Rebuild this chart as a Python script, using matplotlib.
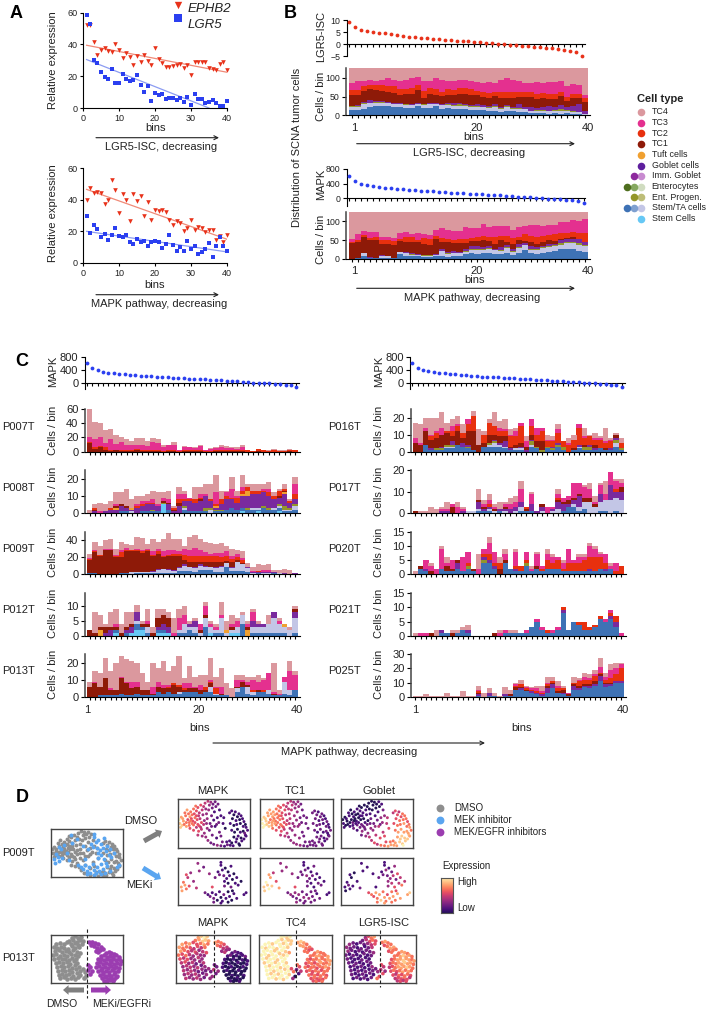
import numpy as np
import matplotlib
matplotlib.use('Agg')
import matplotlib.pyplot as plt
from matplotlib.colors import ListedColormap

plt.rcParams['font.family'] = ['Liberation Sans', 'DejaVu Sans']
plt.rcParams['text.color'] = '#222222'
plt.rcParams['xtick.labelcolor'] = '#222222'
plt.rcParams['ytick.labelcolor'] = '#222222'

W, H = 709, 1010
bins = list(range(1, 41))

# panel A
a1_ephb2 = [52,52,41.5,33.5,36.5,37.5,36,35,40,36.5, 31.5,34.5,32,27,32.5,29,33.5,29.5,27,38,
            31,28.5,25.5,26,26.5,27,28,25,27,21, 29,29,29,29,25,24.5,24,28,29,24]
a1_lgr5 = [58.5,53,30.5,28.5,22.5,19.5,18.5,24.5,15.5,16, 21.5,18,17,17.5,20.5,14.5,10,14,4.5,9.5,
           8,9,5.5,6,6.5,5,6.5,4,7,2, 8.5,5.5,5.5,3,3.5,5,3,1.5,1.5,4.5]
a2_ephb2 = [40,47.5,44.5,45,44.5,37.5,40,52.5,46,31.5, 43.5,40,26.5,43.5,39,42.5,30,38.5,27,33.5,
            33,33.5,32,27,24,26.5,25,20,22,27, 21,22.5,22,19.5,21,21,14.5,17,13,18]
a2_lgr5 = [29.5,19,24,21.5,16.5,18.5,14.5,18,22,17, 16.5,17.5,13.5,12,15,13.5,14,10.5,13,14,
           13,9.5,12,17.5,11.5,7.5,10,7.5,14,9, 11,5.5,7,9,12.5,3.5,11,16.5,10.5,7.5]
a1_red_fit = ([1, 40], [39.5, 22.5])
a1_blue_fit = ([1, 35], [30.5, 0])
a2_red_fit = ([1, 40], [46.5, 15])
a2_blue_fit = ([1, 40], [20, 7])

# ranked scores
lgr5_score = [9.3,7,6,5.5,5,4.7,4.4,4,3.7,3.4, 3.1,2.9,2.6,2.4,2.1,2,1.8,1.6,1.4,1.2,
              1.1,0.9,0.7,0.5,0.3,0.1,-0.2,-0.4,-0.6,-0.8, -0.9,-1.1,-1.3,-1.5,-1.7,-2,-2.4,-2.9,-3.5,-4.8]
mapk_score = [620,465,400,350,320,300,285,270,255,240, 225,210,200,190,180,170,160,150,140,130,
              120,110,100,90,80,70,60,50,40,30, 15,5,-5,-15,-25,-35,-45,-60,-80,-130]

# panel B, LGR5-ISC order
b1_blue = [14,14,18,22,26,24,24,22,22,20, 20,25,20,20,24,17,20,16,16,18, 14,14,14,12,13,10,13,12,10,10, 6,6,6,5,6,5,6,5,4,2]
b1_lav = [8,9,12,10,8,9,8,8,7,8, 7,4,8,9,6,10,7,8,10,8, 8,9,8,7,8,8,8,6,6,6, 6,7,7,6,6,6,6,5,5,1]
b1_olive = [2,2,2,1,1,2,1,1,2,1, 1,1,1,1,1,1,2,3,3,2, 2,2,1,2,3,2,3,2,3,2, 1,1,1,2,2,5,2,2,1,0]
b1_purple = [1,2,4,7,2,2,3,3,2,2, 2,3,2,3,2,3,4,6,3,3, 4,4,4,4,7,3,3,3,10,4, 8,6,8,12,8,11,9,14,20,10]
b1_tc1 = [30,27,30,30,30,28,26,25,22,25, 26,35,15,25,20,20,22,20,25,27, 25,24,22,20,20,24,20,22,20,28, 28,24,24,18,22,25,14,20,15,22]
b1_tc2 = [12,14,12,12,14,16,15,18,16,14, 16,12,18,14,18,12,14,15,15,14, 16,12,14,15,12,15,15,16,14,12, 12,14,14,14,14,10,12,12,12,10]
b1_tc3 = [18,22,14,11,11,14,21,18,21,24, 26,22,27,18,27,32,21,24,23,21, 21,23,22,28,22,33,38,34,27,23, 24,30,27,32,30,28,29,25,25,10]
b1_tc4 = [45,40,38,37,38,35,32,35,38,36, 32,28,39,40,32,35,40,38,35,37, 40,42,45,42,45,35,30,35,40,45, 45,42,43,41,42,40,52,47,48,75]

# panel B, MAPK order
b2_blue = [0,1,7,2,2,3,3,1,12,7, 8,6,5,5,6,6,4,7,7,13, 14,13,14,14,12,12,15,10,15,22, 15,12,16,18,20,25,25,25,20,17]
b2_lav = [0,0,8,1,1,5,3,1,5,8, 3,4,3,3,3,14,8,7,8,6, 8,11,8,12,10,9,14,8,14,14, 8,10,12,14,13,12,16,16,18,16]
b2_olive = [0,0,0,0,0,0,0,0,0,1, 1,1,1,1,2,1,3,2,1,2, 3,2,3,3,2,2,3,2,2,2, 3,3,2,2,4,5,4,4,4,3]
b2_purple = [0,0,1,1,0,1,1,1,2,1, 2,2,1,1,2,4,4,5,3,4, 9,8,6,4,3,7,4,5,8,4, 7,5,4,5,3,9,8,9,10,10]
b2_tc1 = [42,44,42,46,48,30,32,35,28,28, 30,33,30,28,40,20,25,22,24,17, 13,13,19,14,13,20,9,15,10,5, 13,10,12,10,8,2,2,3,1,0]
b2_tc2 = [2,4,5,5,8,10,12,10,6,12, 13,5,16,15,8,10,10,8,10,12, 9,10,10,12,18,12,15,16,8,18, 16,18,14,15,18,16,14,15,17,24]
b2_tc3 = [8,17,10,16,13,9,8,8,16,15, 9,18,9,10,15,26,24,22,22,30, 27,25,32,25,30,25,28,22,28,22, 29,32,28,26,24,28,30,32,30,35]
b2_tc4 = [83,67,62,62,64,76,75,78,66,63, 69,64,70,72,64,62,65,70,68,60, 62,63,53,61,57,56,56,63,60,58, 52,55,57,55,55,48,46,41,45,40]

# panel C, left column
p007_tc1 = [12,4,6,3,1,2,1,1,1,3, 1,1,1,1,0,1,1,0,1,1, 1,1,0,0,1,1,1,1,1,1, 0,0,1,0,0,0,0,0,1,0]
p007_tc2 = [1,2,2,3,2,1,2,1,1,1, 2,2,2,2,1,1,2,1,1,2, 1,2,1,1,1,2,2,1,1,2, 2,1,3,2,1,3,1,1,2,2]
p007_tc3 = [7,12,12,6,15,8,11,8,7,6, 7,5,11,9,5,7,7,1,4,3, 3,5,1,3,3,4,2,3,2,4, 0,0,0,0,0,0,0,0,0,0]
p007_tc4 = [40,24,20,19,14,13,6,8,6,9, 9,7,5,6,3,1,4,1,2,1, 2,2,1,1,2,2,3,2,2,2, 1,0,0,1,1,1,1,1,1,1]

p008_stem = [0,0,0,0,0,0,0,0,0,0, 0,0,0,0,5,0,0,0,0,0, 0,0,0,0,0,0,0,0,0,1, 0,0,1,0,0,0,1,0,0,0]
p008_blue = [0,0,0,0,0,0,1,1,0,0, 1,1,1,1,0,2,0,0,2,1, 1,1,1,0,1,1,2,3,2,2, 2,2,1,3,2,2,2,1,1,2]
p008_lav = [0,0,0,0,0,0,0,0,1,0, 0,0,0,0,0,0,0,0,1,0, 0,0,0,2,0,0,0,0,0,0, 0,1,1,0,0,1,1,1,1,2]
p008_olive = [0,0,0,0,0,0,0,0,0,0, 0,0,1,0,1,0,0,0,1,0, 0,0,2,1,1,1,0,0,0,0, 1,0,0,1,1,0,1,2,1,1]
p008_purple = [0,1,0,1,2,2,3,2,1,3, 3,4,3,3,0,3,1,4,3,6, 5,6,7,4,1,3,6,5,4,7, 7,8,8,8,7,5,4,7,3,3]
p008_tuft = [0,0,0,0,0,1,0,0,1,0, 0,0,0,0,0,0,0,0,0,0, 0,0,0,0,1,0,0,0,0,1, 3,0,0,0,0,0,0,1,0,0]
p008_tc1 = [0,1,0,0,0,1,1,1,0,0, 0,0,0,0,1,1,1,2,0,0, 0,1,0,0,0,0,0,0,0,0, 0,0,0,0,0,0,1,1,0,0]
p008_tc2 = [0,1,0,0,1,0,0,0,0,1, 1,1,1,0,0,0,1,2,1,1, 2,1,0,1,1,3,2,1,3,2, 2,2,2,1,2,2,3,1,1,3]
p008_tc3 = [0,0,1,0,0,1,0,0,0,1, 2,1,2,1,2,2,0,3,3,1, 0,2,1,0,7,0,2,5,1,2, 0,0,0,1,2,0,0,0,0,6]
p008_tc4 = [2,2,5,4,4,7,7,10,5,5, 3,4,5,7,3,5,1,4,2,0, 7,4,6,9,10,5,1,7,3,7, 2,4,4,3,4,2,1,3,1,4]

p009_blue = [1,1,0,0,0,0,1,1,0,1, 1,1,1,2,1,1,2,4,4,4, 3,5,5,5,3,3,8,4,4,4, 3,0,1,0,0,1,0,0,0,0]
p009_lav = [0,0,0,0,0,0,0,0,3,2, 2,2,2,3,5,4,2,3,6,4, 4,5,3,3,4,6,5,3,10,8, 4,1,1,1,1,1,1,0,0,0]
p009_purple = [0,0,0,0,0,0,0,0,0,0, 0,0,1,1,0,1,1,1,2,1, 2,2,2,1,1,1,0,2,0,0, 1,2,1,2,2,1,1,1,0,1]
p009_tc1 = [16,25,22,28,28,20,19,26,24,24, 22,24,18,18,14,15,16,13,5,6, 5,3,5,6,6,4,3,6,3,1, 0,0,0,0,0,0,0,0,0,0]
p009_tc2 = [1,1,1,1,1,2,6,2,1,1, 2,2,1,3,2,2,3,3,6,7, 8,6,6,6,7,6,6,3,3,4, 1,0,1,0,0,0,0,0,0,1]
p009_tc3 = [1,1,0,1,1,1,3,2,1,2, 1,1,4,3,5,5,4,3,7,6, 9,7,5,3,4,5,5,3,4,2, 0,1,0,2,2,0,0,0,0,0]
p009_tc4 = [5,10,10,10,11,7,9,5,5,14, 15,5,15,8,15,21,14,15,3,16, 15,14,12,13,10,12,6,9,4,8, 4,4,8,6,7,2,3,5,5,0]

p012_stem = [0,0,0,0,0,1,0,0,1,2, 2,0,0,1,1,1,0,0,0,0, 0,0,0,1,0,0,0,1,1,0, 0,0,0,0,0,0,0,0,0,0]
p012_blue = [0,0,0,0,0,1,0,1,0,2, 1,1,0,1,1,0,0,1,1,2, 1,0,3,0,1,1,0,0,0,4, 0,1,1,1,1,1,1,1,0,1]
p012_lav = [0,0,0,0,0,0,0,0,0,1, 0,2,0,0,0,0,0,1,3,1, 2,1,3,2,1,5,1,1,2,3, 0,2,2,2,3,5,3,2,2,5]
p012_tuft = [0,0,2,0,0,0,0,0,0,0, 0,0,0,0,0,0,0,0,0,0, 0,0,0,0,0,0,1,0,0,0, 2,0,0,0,0,0,0,1,0,0]
p012_purple = [0,0,0,1,2,0,0,1,2,3, 0,0,0,1,2,2,0,0,0,1, 2,0,0,0,0,0,0,0,0,0, 0,2,1,1,0,2,0,0,0,2]
p012_tc1 = [2,1,1,2,1,1,1,1,1,0, 1,1,1,3,3,3,0,0,0,0, 0,1,1,0,0,0,0,1,0,0, 1,0,0,0,0,0,0,0,0,1]
p012_tc3 = [0,0,0,0,0,1,0,0,0,0, 0,1,0,0,0,0,1,4,3,0, 0,2,3,1,1,1,0,1,2,0, 1,3,0,0,0,0,1,0,0,0]
p012_tc4 = [0,7,4,1,5,5,3,5,4,2, 1,4,2,3,2,2,5,3,3,1, 1,0,1,1,1,4,3,3,1,1, 1,1,1,0,3,0,1,0,1,1]

p013_blue = [0,0,1,1,1,1,2,1,1,2, 1,1,1,3,2,3,2,2,3,3, 3,2,3,3,1,1,1,0,3,6, 2,1,3,3,2,1,1,2,1,4]
p013_lav = [0,0,0,0,0,0,0,0,0,0, 0,0,0,0,0,0,0,1,0,0, 0,0,0,3,1,0,0,0,2,0, 4,2,0,0,2,0,0,7,3,0]
p013_tc1 = [6,8,5,10,3,3,9,7,4,4, 3,3,1,3,3,2,5,3,1,2, 2,2,1,2,0,1,0,0,1,3, 1,0,1,0,0,1,0,0,0,0]
p013_tc2 = [0,0,0,0,0,0,0,0,0,0, 0,0,0,0,0,1,1,1,1,0, 0,0,2,1,3,0,0,0,0,0, 0,1,0,1,0,0,0,0,0,0]
p013_tc3 = [0,1,0,0,1,0,1,1,4,3, 0,0,4,3,2,1,0,0,3,3, 1,3,0,1,1,4,0,0,4,1, 2,6,5,6,10,1,1,3,11,9]
p013_tc4 = [3,6,8,12,10,16,12,13,12,11, 10,5,14,8,14,8,10,17,3,10, 6,6,7,13,6,11,7,5,3,3, 3,2,4,1,0,17,2,0,6,2]

# panel C, right column
p016_blue = [0,0,4,1,1,1,2,2,4,3, 2,1,0,3,3,3,3,2,1,1, 1,0,3,2,0,2,1,3,1,0, 1,2,1,1,1,2,1,1,3,1]
p016_lav = [0,0,0,0,0,0,1,1,0,0, 0,0,0,0,1,2,1,1,0,1, 1,0,1,0,0,0,0,0,0,0, 0,1,0,0,0,0,0,0,2,0]
p016_olive = [0,0,0,0,1,1,1,1,0,0, 1,0,0,0,1,1,0,0,0,0, 0,0,2,1,1,1,1,1,2,0, 0,0,2,2,0,0,0,0,2,1]
p016_purple = [0,0,0,1,0,1,0,2,0,2, 1,0,0,0,0,1,1,3,1,0, 1,1,1,0,0,0,1,1,0,0, 0,1,0,1,1,0,0,1,1,0]
p016_tc1 = [5,4,8,5,6,7,7,3,8,3, 8,11,4,2,5,3,4,3,1,2, 2,2,3,3,5,0,0,0,0,0, 1,0,1,0,2,0,1,0,2,0]
p016_tc2 = [0,0,0,2,3,0,1,3,3,3, 4,9,0,5,7,5,3,3,6,5, 10,0,5,4,6,3,3,6,3,4, 5,10,4,5,3,5,3,4,0,3]
p016_tc3 = [3,1,2,1,1,4,0,3,1,0, 3,0,0,0,0,0,2,1,1,3, 2,3,4,4,2,1,1,2,0,1, 0,2,1,0,1,1,1,1,0,0]
p016_tc4 = [9,11,6,10,8,9,5,4,5,5, 0,3,9,2,2,8,4,6,3,2, 0,3,0,0,0,3,2,3,0,3, 3,0,5,1,3,1,8,1,1,3]

p017_blue = [0,0,0,0,0,0,0,0,0,0, 0,0,1,1,1,0,1,0,0,0, 1,1,1,0,0,0,0,0,1,3, 3,1,2,0,0,1,1,0,1,0]
p017_lav = [0,0,0,0,0,0,0,0,0,0, 1,1,1,0,1,1,0,1,0,1, 2,0,0,0,1,0,1,2,0,0, 1,2,3,5,3,4,5,6,6,6]
p017_purple = [0,0,0,0,0,1,1,0,0,1, 0,0,3,1,1,0,1,1,2,2, 2,0,3,1,2,0,1,3,3,1, 2,5,0,0,0,4,0,7,3,4]
p017_tc1 = [1,0,0,0,0,0,0,3,0,0, 0,0,1,1,0,1,0,1,0,0, 0,1,0,0,1,0,0,1,1,2, 1,1,2,2,1,0,0,0,0,2]
p017_tc2 = [0,0,0,0,0,0,0,0,0,0, 0,0,0,0,1,0,0,0,0,0, 0,1,0,0,0,0,0,1,0,0, 0,0,0,0,0,0,0,0,1,0]
p017_tc3 = [0,0,0,0,0,1,1,1,3,1, 0,0,0,1,2,1,0,1,2,2, 6,0,5,0,0,3,1,2,2,2, 7,5,5,4,1,4,3,6,4,2]
p017_tc4 = [0,1,1,3,2,1,3,0,2,1, 0,0,5,2,3,1,3,1,3,3, 4,0,1,0,0,0,0,2,0,0, 0,0,1,3,3,1,6,0,1,2]

p020_blue = [0,2,1,0,0,2,1,1,2,1, 2,1,0,4,4,2,0,4,2,1, 1,3,1,2,1,2,2,2,1,1, 1,1,1,1,1,2,1,2,0,0]
p020_olive = [0,0,0,0,0,0,0,0,0,0, 1,0,0,1,0,0,0,0,0,0, 0,1,0,0,0,0,0,0,0,0, 0,0,0,0,0,0,0,0,0,0]
p020_purple = [0,0,1,0,0,0,0,0,2,0, 0,0,0,1,1,1,0,0,0,1, 0,0,0,0,0,0,0,0,0,0, 0,0,0,1,0,0,1,0,0,0]
p020_tc1 = [0,1,0,1,0,0,2,1,1,0, 0,1,0,0,0,0,2,1,0,0, 0,0,0,1,0,0,0,0,0,0, 0,0,0,0,0,0,0,0,0,0]
p020_tc2 = [0,0,0,0,0,0,0,0,0,0, 1,0,0,1,2,1,2,0,0,1, 2,1,0,0,1,3,2,3,1,3, 3,3,4,4,5,4,2,0,1,3]
p020_tc3 = [0,0,3,2,2,7,1,3,0,5, 4,0,2,2,4,4,0,2,0,5, 0,3,1,4,1,2,2,1,2,5, 1,2,1,4,3,1,3,1,3,0]
p020_tc4 = [1,0,0,1,0,1,2,0,0,0, 0,0,5,0,2,0,2,2,0,1, 0,0,1,1,0,2,1,0,1,0, 0,1,1,1,1,1,0,1,0,0]

p021_blue = [0,0,0,0,0,1,1,0,1,2, 1,0,0,0,0,0,0,1,1,1, 1,1,3,5,2,1,1,2,8,2, 5,4,2,2,3,6,5,6,3,0]
p021_purple = [0,0,0,0,0,1,0,0,0,0, 1,0,0,0,0,0,0,0,0,0, 0,0,0,0,0,0,0,0,1,0, 0,0,0,0,0,0,0,1,2,0]
p021_tc1 = [0,0,0,1,0,0,0,1,0,0, 0,0,0,0,0,1,0,0,0,0, 0,0,0,0,0,0,0,0,0,0, 0,0,0,0,0,0,0,0,0,0]
p021_tc2 = [0,0,0,0,0,0,0,0,0,0, 0,0,0,0,0,0,0,0,0,0, 0,0,0,0,0,1,0,0,1,0, 0,1,3,1,1,1,0,1,2,0]
p021_tc3 = [0,1,1,0,0,0,0,0,0,0, 0,0,0,0,0,0,1,1,0,0, 0,1,0,1,1,0,1,1,0,0, 0,0,0,0,0,0,1,1,0,1]
p021_tc4 = [1,0,0,0,2,0,0,1,1,1, 2,0,0,0,0,0,1,0,1,1, 0,0,0,0,0,0,0,0,0,0, 0,0,0,0,0,0,0,0,0,0]

p025_blue = [0,0,0,0,0,0,0,0,0,0, 0,0,1,0,1,1,0,1,1,5, 5,4,3,2,1,3,6,3,2,1, 5,5,7,6,8,11,7,8,10,10]
p025_purple = [0,0,0,0,0,0,0,0,0,0, 0,0,1,0,2,0,0,1,0,0, 1,0,1,1,1,3,3,0,1,0, 3,1,1,2,1,4,2,1,1,1]
p025_tc1 = [0,0,0,0,0,0,0,0,0,0, 0,0,1,0,0,0,0,0,1,2, 1,1,0,0,0,2,1,1,2,1, 1,2,1,1,2,1,1,1,0,0]
p025_tc2 = [0,0,0,0,0,0,0,0,0,0, 0,0,1,0,0,0,0,0,0,1, 2,1,1,1,1,1,1,2,1,0, 1,3,3,3,4,1,2,3,5,9]
p025_tc3 = [0,0,0,0,0,0,0,0,0,0, 0,0,1,0,0,0,0,0,0,1, 0,1,1,2,1,1,0,2,0,1, 0,1,2,1,1,4,2,6,4,3]
p025_tc4 = [1,1,2,1,1,1,3,1,1,4, 1,1,3,3,3,2,1,5,3,1, 3,1,1,2,4,4,3,3,2,0, 4,1,3,3,3,6,3,4,4,1]

# panel D, P009T embedding, box percent
dmso_x = [2,3,5,6,8,4,9,7,11,12, 10,13,15,17,14,18,20,16,19,22, 23,25,21,26,24,28,30,27,22,29,
          32,34,31,36,33,38,35,30,37,39, 40,42,41,44,45,43,46,47,48,50, 49,52,51,53,55,54,58,56,60,57,
          17,22,26,29,33,37,41,28,34,39, 42,46,50,55,60,65,69,73,77,62, 72,75,78,80,83,85,88,76,81,86,
          90,92,94,73,78,82,87,91,95,97, 75,79,83,87,91,94,78,84,88,92, 81,85,89,86,75,72,68,93,82,95,
          44,52,58,63,66,48,54,60,47,64, 16,20,24,28,12,18,32,36,26,40]
dmso_y = [58,50,63,46,55,42,48,60,66,52, 72,78,70,64,58,74,68,52,60,80, 70,86,55,76,62,83,72,58,47,66,
          88,78,60,85,52,92,68,45,56,80, 70,96,60,88,50,78,94,66,82,57, 90,95,74,85,62,48,78,90,66,52,
          40,36,42,34,38,30,40,26,24,22, 15,10,7,5,4,3,6,5,4,12, 72,76,68,74,64,70,66,60,56,58,
          60,54,48,50,46,48,50,44,42,36, 36,32,38,32,34,26,22,24,20,18, 12,8,14,5,10,14,12,30,18,24,
          36,44,32,50,40,26,20,24,44,62, 46,50,52,48,44,56,42,48,66,50]
dmso_mapk = [9,8,7,8,7,8,6,7,6,6, 6,7,6,7,5,6,6,6,5,6, 5,6,5,5,6,5,4,5,6,4,
             5,4,4,4,5,4,3,5,3,3, 3,4,3,3,2,3,3,2,2,1, 2,2,1,2,1,2,1,2,1,2,
             5,5,4,5,4,3,3,4,3,3, 3,2,2,3,2,1,2,1,1,2, 1,1,0,1,0,1,1,0,1,0,
             1,1,0,1,0,1,0,1,1,1, 1,0,0,1,0,1,0,1,0,1, 1,0,1,0,0,1,1,2,1,1,
             2,1,2,1,0,2,1,2,2,1, 6,6,5,5,7,6,4,4,5,3]
dmso_tc1 = [9,9,8,9,8,9,8,8,7,7, 7,7,7,7,6,7,7,7,6,6, 6,6,6,6,6,5,5,6,6,5,
            5,5,5,4,5,4,4,6,4,4, 4,4,4,4,3,4,3,3,3,3, 3,3,3,3,2,3,2,2,2,2,
            6,5,5,5,4,4,3,4,4,3, 3,3,3,3,2,2,2,2,2,2, 2,2,2,1,2,2,1,2,1,2,
            1,2,1,2,2,2,1,2,1,2, 2,1,2,1,2,1,2,2,1,2, 2,2,1,2,2,2,2,1,2,2,
            3,3,2,2,2,3,3,2,3,2, 7,7,6,6,8,7,5,5,6,4]
dmso_goblet = [0,1,0,0,0,1,0,1,1,0, 1,0,0,1,0,1,0,2,0,1, 0,0,1,1,0,0,1,0,2,1,
               0,1,0,0,1,0,1,2,0,0, 1,0,2,0,2,0,0,1,0,2, 0,1,1,0,3,2,2,1,3,3,
               2,1,2,3,2,3,3,2,3,4, 4,5,4,6,6,7,7,7,7,5, 4,5,5,4,5,6,6,5,6,6,
               6,5,6,5,6,6,7,6,7,6, 6,7,7,7,7,8,7,8,8,8, 8,8,8,9,7,6,6,7,8,7,
               3,4,4,4,5,4,5,5,3,4, 1,1,1,2,1,0,2,2,1,2]

meki_x = [5,8,10,12,14,16,18,22,26,30,6,12, 52,56,58,60,62,64,66,68,70,72,74,76,60,65,70,
          78,80,74,84,82,76,88,65, 38,42,45,48,50,53,55,58,60,62,64,67,70,72,75,78,82,50,60,70,
          28,36,44,48,92,95]
meki_y = [38,48,42,34,58,40,68,50,36,72,30,64, 58,70,64,84,74,62,78,56,70,62,82,54,90,50,46,
          66,46,38,42,58,30,50,40, 26,22,18,26,14,22,10,28,16,8,22,14,28,18,10,24,14,6,4,6,
          88,80,66,38,22,26]
meki_mapk = [7,6,7,6,4,5,3,3,4,3,7,5, 2,1,2,1,1,2,0,1,0,1,1,0,1,1,0,
             0,1,2,1,1,0,0,2, 2,1,2,1,2,1,0,1,0,1,2,1,0,1,0,1,1,2,1,0,
             3,2,3,5,1,1]
meki_tc1 = [8,9,8,9,7,8,4,5,7,3,8,7, 2,2,2,1,2,3,1,2,1,2,2,1,1,2,1,
            1,2,1,2,1,2,1,2, 2,3,2,3,2,3,2,2,3,2,2,3,2,2,2,1,2,3,2,2,
            3,3,3,5,1,1]
meki_goblet = [1,1,2,1,0,1,0,1,2,1,0,1, 2,1,2,1,3,2,1,3,2,4,3,2,1,3,4,
               5,4,5,6,4,5,4,3, 5,6,5,7,6,7,8,6,7,6,5,7,6,7,6,7,7,6,7,6,
               1,1,1,1,7,8]

# panel D, P013T embedding, box percent
e013_x = [30,34,38,42, 26,31,36,40,44, 8,13,18,23,28,33,38,43, 4,9,14,19,24,29,34,39,
          6,11,16,21,26,31,36,41, 3,8,13,18,23,28,33,38, 5,10,15,20,25,30,35, 7,12,17,22,27,32,37,
          9,14,19,24,29,34,39, 10,15,20,25,30,35,40, 11,16,21,26,31,36,41, 13,18,23,28,33,38,
          44,47,51,54,57,49,55,46,52, 53,57,61,65,69,56,60,64,68,72,62,66,
          76,80,84,88, 70,74,78,82,86,90,94, 66,70,74,78,82,86,90,94,97, 64,68,72,76,80,84,88,92,96,
          63,67,71,75,79,83,87,91,95, 65,69,73,77,81,85,89,93, 68,72,76,80,84,88,92, 71,75,79,83,87,91, 74,78,82,86]
e013_y = [94,97,93,96, 88,90,86,89,87, 80,83,81,84,80,82,79,81, 74,72,75,73,71,76,73,74,
          66,68,65,67,64,68,65,63, 58,60,57,59,56,61,58,57, 50,52,49,51,48,53,50, 42,44,41,43,40,45,42,
          34,36,33,35,32,37,34, 26,28,25,27,24,29,26, 18,20,17,19,16,21,18, 10,12,9,11,8,12,
          30,24,28,20,25,14,34,10,38, 84,86,83,80,74,78,76,72,68,70,66,64,
          62,65,63,61, 56,58,55,57,54,58,55, 49,50,48,50,47,51,48,49,46, 41,43,40,42,39,43,40,42,39,
          33,35,32,34,31,35,32,34,31, 25,27,24,26,23,27,24,26, 17,19,16,18,15,19,16, 10,12,9,11,8,12, 5,4,6,4]
e013_mapk = [7,8,9,8, 6,7,8,8,7, 7,6,7,5,5,6,7,6, 7,6,6,5,4,5,4,6,
             7,6,5,4,5,3,4,5, 6,5,6,4,3,4,3,3, 5,4,5,3,3,4,3, 4,5,3,4,2,3,4,
             3,4,4,3,4,2,3, 4,3,4,3,2,3,2, 3,4,3,4,3,2,3, 4,3,3,4,3,2,
             3,2,4,2,3,3,2,3,2, 7,6,6,5,4,6,5,4,3,3,3,4,
             1,2,1,1, 1,2,0,1,0,1,2, 1,0,0,1,0,0,1,0,1, 1,0,1,0,0,1,0,0,1,
             1,0,0,1,0,0,0,1,0, 0,1,0,0,0,1,0,0, 0,0,1,0,0,0,1, 0,0,0,1,0,0, 1,0,0,1]
e013_tc4 = [9,9,8,9, 9,8,9,8,8, 9,9,8,9,9,8,9,8, 9,8,9,9,8,9,9,8,
            9,9,9,8,9,9,8,7, 9,9,8,9,9,8,8,9, 9,8,9,9,8,9,9, 8,9,9,8,9,9,8,
            9,8,9,9,8,9,9, 9,9,8,9,9,8,9, 9,8,9,8,9,9,8, 9,9,8,9,8,9,
            5,6,2,1,4,0,5,3,6, 7,8,7,6,6,7,7,6,5,5,6,6,
            6,7,6,6, 6,6,7,7,6,6,7, 6,5,6,6,7,6,6,7,7, 5,6,6,5,6,7,6,6,7,
            6,5,6,6,5,6,6,7,6, 5,6,5,6,6,5,6,6, 6,5,6,5,6,6,5, 5,6,5,6,5,6, 5,6,5,6]
e013_lgr5 = [3,5,6,7, 2,4,5,6,5, 3,2,1,2,2,3,4,5, 3,2,2,1,2,1,2,4,
             3,2,1,2,1,2,2,3, 2,1,2,1,1,2,1,2, 2,1,1,1,2,1,1, 2,1,2,1,1,2,2,
             1,2,1,2,1,1,3, 2,1,2,1,2,1,2, 2,1,1,2,1,2,1, 1,2,1,2,1,2,
             2,3,4,5,3,5,4,6,5, 6,7,6,6,7,5,6,7,6,6,5,6,
             6,7,7,6, 6,6,7,8,7,7,6, 5,6,7,7,8,7,7,6,7, 5,6,6,7,7,8,7,7,6,
             4,5,6,7,7,7,8,7,6, 5,6,5,6,7,6,7,6, 5,4,6,5,6,6,5, 4,5,5,6,5,4, 4,5,4,5]

cell_colors = {'stem': '#66C8F5', 'blue': '#3E72B5', 'lav': '#C3C6E6', 'olive': '#94962A',
               'purple': '#7A2A9E', 'tuft': '#F0A030', 'tc1': '#8E1A08', 'tc2': '#E8300E',
               'tc3': '#E4308F', 'tc4': '#DB989E'}
red = '#E8321A'
blue = '#2B3FF0'
cmap = ListedColormap(plt.cm.magma(np.linspace(0.15, 0.98, 256)))

fig = plt.figure(figsize=(W / 100, H / 100), dpi=100)
ov = fig.add_axes([0, 0, 1, 1], zorder=5)
ov.set_xlim(0, W)
ov.set_ylim(H, 0)
ov.axis('off')


def px_axes(left, top, right, bottom):
    ax = fig.add_axes([left / W, 1 - bottom / H, (right - left) / W, (bottom - top) / H])
    ax.patch.set_alpha(0)
    ax.spines['top'].set_visible(False)
    ax.spines['right'].set_visible(False)
    return ax


def label(x, y, s, size=8, ha='center', **kw):
    ov.text(x, y, s, fontsize=size, ha=ha, va='center', **kw)


def thin_arrow(x0, x1, y):
    ov.annotate('', xy=(x1, y), xytext=(x0, y),
                arrowprops=dict(arrowstyle='->', lw=0.8, mutation_scale=7, shrinkA=0, shrinkB=0, color='#222222'))


def thick_arrow(x0, y0, x1, y1, color):
    ov.annotate('', xy=(x1, y1), xytext=(x0, y0),
                arrowprops=dict(width=3.6, headwidth=7, headlength=4, color=color, shrink=0, lw=0))


def fit_bins(ax, left, right, start, end):
    w = (end - start) / 40
    ax.set_xlim(0.5 - (start - left) / w, 40.5 + (right - end) / w)
    ax.set_xticks(bins, labels=[])
    ax.tick_params(axis='x', length=2.5, width=0.8)


def score_axes(left, right, first, last, top, bottom, ymin, ymax, yticks, values, color, size):
    w = (last - first) / 39
    ax = px_axes(left, top, right, bottom)
    fit_bins(ax, left, right, first - w / 2, last + w / 2)
    ax.set_ylim(ymin, ymax)
    ax.spines['bottom'].set_position(('data', 0))
    ax.set_yticks(yticks)
    ax.tick_params(axis='y', labelsize=size, length=3, width=0.8, pad=1.5)
    ax.scatter(bins, values, s=7.5, color=color, linewidths=0, zorder=3, clip_on=False)
    return ax


def stack_axes(left, right, start, end, top, bottom, ymax, yticks, layers, xlabels=None, size=8):
    ax = px_axes(left, top, right, bottom)
    fit_bins(ax, left, right, start, end)
    ax.set_ylim(0, ymax)
    ax.set_yticks(yticks)
    ax.tick_params(axis='y', labelsize=size, length=3, width=0.8, pad=1.5)
    ax.spines['left'].set_linewidth(1.1)
    ax.spines['left'].set_color('#444444')
    base = np.zeros(40)
    for name, values in layers:
        ax.bar(bins, values, width=1.02, bottom=base, color=cell_colors[name], linewidth=0)
        base = base + np.array(values)
    if xlabels:
        ax.set_xticks(xlabels, labels=['1', '20', '40'], minor=True)
        ax.tick_params(axis='x', which='minor', length=0, labelsize=8, pad=5.5)
    return ax


# panel A
def expression_axes(top, bottom, ephb2, lgr5, red_fit, blue_fit):
    ax = px_axes(83, top, 227, bottom)
    ax.set_xlim(0, 40)
    ax.set_ylim(0, 60)
    ax.set_xticks([0, 10, 20, 30, 40])
    ax.set_yticks([0, 20, 40, 60])
    ax.tick_params(labelsize=6.5, length=2.5, width=0.8, pad=1.5)
    ax.plot(red_fit[0], red_fit[1], color='#F08A78', lw=0.9)
    ax.plot(blue_fit[0], blue_fit[1], color='#8C9CF2', lw=0.9)
    ax.scatter(bins, ephb2, marker='v', s=11, color=red, linewidths=0, clip_on=False, zorder=3)
    ax.scatter(bins, lgr5, marker='s', s=12, color=blue, linewidths=0, clip_on=False, zorder=3)


expression_axes(12.7, 108, a1_ephb2, a1_lgr5, a1_red_fit, a1_blue_fit)
expression_axes(168, 263, a2_ephb2, a2_lgr5, a2_red_fit, a2_blue_fit)
label(52.7, 60, 'Relative expression', rotation=90)
label(52.7, 213, 'Relative expression', rotation=90)
label(155.7, 128, 'bins')
label(155, 285, 'bins')
thin_arrow(96, 219, 137.7)
thin_arrow(96, 219, 294.7)
label(161, 146.7, 'LGR5-ISC, decreasing')
label(159, 303.7, 'MAPK pathway, decreasing')
ov.scatter([178], [5], marker='v', s=28, color=red, linewidths=0)
ov.scatter([178], [18], marker='s', s=28, color=blue, linewidths=0)
label(188, 9, 'EPHB2', size=9.5, ha='left', style='italic')
label(188, 25, 'LGR5', size=9.5, ha='left', style='italic')

# panel B
score_axes(346.5, 585, 349, 582, 20, 56, -5, 10, [-5, 0, 5, 10], lgr5_score, red, 6.3)
stack_axes(346, 590, 349, 588, 68.3, 115.4, 125, [0, 50, 100],
           [('blue', b1_blue), ('lav', b1_lav), ('olive', b1_olive), ('purple', b1_purple),
            ('tc1', b1_tc1), ('tc2', b1_tc2), ('tc3', b1_tc3), ('tc4', b1_tc4)],
           xlabels=[1.3, 21.8, 40.5], size=6.3)
score_axes(346.5, 585, 349, 584, 169, 206, -220, 800, [0, 400, 800], mapk_score, blue, 6.3)
stack_axes(346, 590, 349, 588, 212, 258.7, 125, [0, 50, 100],
           [('blue', b2_blue), ('lav', b2_lav), ('olive', b2_olive), ('purple', b2_purple),
            ('tc1', b2_tc1), ('tc2', b2_tc2), ('tc3', b2_tc3), ('tc4', b2_tc4)],
           xlabels=[1.3, 21.8, 40.5], size=6.3)
label(296.7, 147, 'Distribution of SCNA tumor cells', rotation=90)
label(321, 36.7, 'LGR5-ISC', rotation=90)
label(321, 96.7, 'Cells / bin', rotation=90)
label(321, 184, 'MAPK', rotation=90)
label(321, 239, 'Cells / bin', rotation=90)
label(474, 137, 'bins')
label(474.7, 280, 'bins')
thin_arrow(356.7, 575, 143.7)
thin_arrow(356.7, 575, 288.3)
label(469, 153, 'LGR5-ISC, decreasing')
label(472, 298, 'MAPK pathway, decreasing')

# cell type legend
label(636.7, 99, 'Cell type', ha='left', fontweight='bold')
legend_rows = [('TC4', ['#DB989E']), ('TC3', ['#E4308F']), ('TC2', ['#E8300E']), ('TC1', ['#8E1A08']),
               ('Tuft cells', ['#F0A030']), ('Goblet cells', ['#5E1F9E']),
               ('Imm. Goblet', ['#8E2A9E', '#C88BD0']),
               ('Enterocytes', ['#4E6E1E', '#85A860', '#D0DCC0']),
               ('Ent. Progen.', ['#94962A', '#BDBD78']),
               ('Stem/TA cells', ['#3E72B5', '#7FA0D0', '#C3C6E6']),
               ('Stem Cells', ['#66C8F5'])]
legend_y = [112, 122.7, 133.3, 144, 154.7, 165.7, 176, 186.7, 197.3, 208, 218.7]
for (name, dots), y in zip(legend_rows, legend_y):
    label(651.7, y, name, size=6.4, ha='left')
    for k, c in enumerate(reversed(dots)):
        ov.scatter([641 - 7.2 * k], [y], s=30, color=c, linewidths=0)

# panel C scores
score_axes(84.7, 299, 87, 296.3, 357.3, 389, -200, 800, [0, 400, 800], mapk_score, blue, 8)
score_axes(410, 625, 412.3, 621.7, 357, 389, -200, 800, [0, 400, 800], mapk_score, blue, 8)
label(53, 371, 'MAPK', rotation=90)
label(379, 371, 'MAPK', rotation=90)

left_col = dict(left=84.7, right=300, start=87, end=297.7)
right_col = dict(left=410.7, right=626, start=412.7, end=624)

stack_axes(top=409, bottom=451.7, ymax=60, yticks=[0, 20, 40, 60],
           layers=[('tc1', p007_tc1), ('tc2', p007_tc2), ('tc3', p007_tc3), ('tc4', p007_tc4)], **left_col)
stack_axes(top=470, bottom=513, ymax=25, yticks=[0, 10, 20],
           layers=[('stem', p008_stem), ('blue', p008_blue), ('lav', p008_lav), ('olive', p008_olive),
                   ('purple', p008_purple), ('tuft', p008_tuft), ('tc1', p008_tc1), ('tc2', p008_tc2),
                   ('tc3', p008_tc3), ('tc4', p008_tc4)], **left_col)
stack_axes(top=531.7, bottom=574.3, ymax=50, yticks=[0, 20, 40],
           layers=[('blue', p009_blue), ('lav', p009_lav), ('purple', p009_purple), ('tc1', p009_tc1),
                   ('tc2', p009_tc2), ('tc3', p009_tc3), ('tc4', p009_tc4)], **left_col)
stack_axes(top=593.3, bottom=636, ymax=14, yticks=[0, 5, 10],
           layers=[('stem', p012_stem), ('blue', p012_blue), ('lav', p012_lav), ('tuft', p012_tuft),
                   ('purple', p012_purple), ('tc1', p012_tc1), ('tc3', p012_tc3), ('tc4', p012_tc4)], **left_col)
stack_axes(top=654.3, bottom=697, ymax=25, yticks=[0, 10, 20],
           layers=[('blue', p013_blue), ('lav', p013_lav), ('tc1', p013_tc1), ('tc2', p013_tc2),
                   ('tc3', p013_tc3), ('tc4', p013_tc4)], xlabels=[0.6, 21.7, 40.4], **left_col)

stack_axes(top=409, bottom=451.7, ymax=25, yticks=[0, 10, 20],
           layers=[('blue', p016_blue), ('lav', p016_lav), ('olive', p016_olive), ('purple', p016_purple),
                   ('tc1', p016_tc1), ('tc2', p016_tc2), ('tc3', p016_tc3), ('tc4', p016_tc4)], **right_col)
stack_axes(top=470, bottom=513, ymax=20, yticks=[0, 10, 20],
           layers=[('blue', p017_blue), ('lav', p017_lav), ('purple', p017_purple), ('tc1', p017_tc1),
                   ('tc2', p017_tc2), ('tc3', p017_tc3), ('tc4', p017_tc4)], **right_col)
stack_axes(top=531.7, bottom=574.3, ymax=15, yticks=[0, 5, 10, 15],
           layers=[('blue', p020_blue), ('olive', p020_olive), ('purple', p020_purple), ('tc1', p020_tc1),
                   ('tc2', p020_tc2), ('tc3', p020_tc3), ('tc4', p020_tc4)], **right_col)
stack_axes(top=593, bottom=636, ymax=15, yticks=[0, 5, 10, 15],
           layers=[('blue', p021_blue), ('purple', p021_purple), ('tc1', p021_tc1), ('tc2', p021_tc2),
                   ('tc3', p021_tc3), ('tc4', p021_tc4)], **right_col)
stack_axes(top=654, bottom=697, ymax=30, yticks=[0, 10, 20, 30],
           layers=[('blue', p025_blue), ('purple', p025_purple), ('tc1', p025_tc1), ('tc2', p025_tc2),
                   ('tc3', p025_tc3), ('tc4', p025_tc4)], xlabels=[0.9, 21, 40.2], **right_col)

for y, left_name, right_name in zip([427, 488, 549, 610, 671],
                                    ['P007T', 'P008T', 'P009T', 'P012T', 'P013T'],
                                    ['P016T', 'P017T', 'P020T', 'P021T', 'P025T']):
    label(2, y, left_name, ha='left')
    label(328, y, right_name, ha='left')
    label(53, y + 3, 'Cells / bin', rotation=90)
    label(379, y + 3, 'Cells / bin', rotation=90)
label(200, 727.7, 'bins')
label(521.7, 727.7, 'bins')
thin_arrow(213, 485, 743)
label(349, 752, 'MAPK pathway, decreasing')

for x, y, s in [(16, 14, 'A'), (290, 14, 'B'), (22, 361, 'C'), (22, 798, 'D')]:
    label(x, y, s, size=13, fontweight='bold', color='black')


# panel D
def box_axes(left, top, right, bottom):
    ax = fig.add_axes([left / W, 1 - bottom / H, (right - left) / W, (bottom - top) / H])
    ax.set_xlim(0, 100)
    ax.set_ylim(0, 100)
    ax.set_xticks([])
    ax.set_yticks([])
    for sp in ax.spines.values():
        sp.set_linewidth(1.0)
        sp.set_color('#444444')
    return ax


def expr_scatter(box, x, y, values, s):
    ax = box_axes(*box)
    ax.scatter(x, y, c=values, cmap=cmap, vmin=0, vmax=9, s=s, linewidths=0)


grey = '#8E8E8E'
sky = '#5AA5F0'
violet = '#9B3DB0'

ax = box_axes(50.7, 829.3, 123, 877.3)
ax.scatter(dmso_x, dmso_y, s=8, color=grey, linewidths=0)
ax.scatter(meki_x, meki_y, s=8, color=sky, linewidths=0)

e013_xa = np.array(e013_x)
e013_ya = np.array(e013_y)
ax = box_axes(50.7, 934.7, 123, 983.3)
ax.scatter(e013_xa[e013_xa < 50], e013_ya[e013_xa < 50], s=11, color=grey, linewidths=0)
ax.scatter(e013_xa[e013_xa >= 50], e013_ya[e013_xa >= 50], s=11, color=violet, linewidths=0)

top_cols = [(177.7, 249.7), (260.3, 332.7), (341.3, 413.3)]
for col, vals in zip(top_cols, [dmso_mapk, dmso_tc1, dmso_goblet]):
    expr_scatter((col[0], 799.3, col[1], 847.7), dmso_x, dmso_y, vals, 4.5)
for col, vals in zip(top_cols, [meki_mapk, meki_tc1, meki_goblet]):
    expr_scatter((col[0], 857.7, col[1], 905), meki_x, meki_y, vals, 4.5)
low_cols = [(176.3, 249.7), (259.3, 332.3), (343.7, 416.3)]
for col, vals in zip(low_cols, [e013_mapk, e013_tc4, e013_lgr5]):
    expr_scatter((col[0], 934.7, col[1], 983.3), e013_x, e013_y, vals, 7)

for x, y, s in [(212.7, 790.7, 'MAPK'), (295.3, 790.7, 'TC1'), (379.3, 790.7, 'Goblet'),
                (212.7, 923.3, 'MAPK'), (296.7, 923.3, 'TC4'), (383.3, 923.3, 'LGR5-ISC'),
                (141, 821, 'DMSO'), (139, 885.3, 'MEKi'),
                (62, 1004, 'DMSO'), (121.3, 1004, 'MEKi/EGFRi')]:
    label(x, y, s, size=8 if y < 1000 else 7.5)
label(2, 852.7, 'P009T', ha='left')
label(2, 958, 'P013T', ha='left')

thick_arrow(144, 841, 162, 831, '#7F7F7F')
thick_arrow(143, 868, 161, 879, sky)
thick_arrow(84, 990, 63, 990, '#7F7F7F')
thick_arrow(91, 990, 111, 990, violet)
for x, y0, y1 in [(87.3, 929, 998), (214.3, 930, 987), (296.3, 930, 987), (380, 930, 987)]:
    ov.plot([x, x], [y0, y1], color='#222222', lw=0.8, ls=(0, (3, 2)))

for y, c, s in [(807.7, grey, 'DMSO'), (819.7, sky, 'MEK inhibitor'), (831.7, violet, 'MEK/EGFR inhibitors')]:
    ov.scatter([439.7], [y], s=32, color=c, linewidths=0)
    label(454.3, y, s, size=7, ha='left')
label(442, 866, 'Expression', size=7, ha='left')
label(457.7, 881.7, 'High', size=7, ha='left')
label(457.7, 908.3, 'Low', size=7, ha='left')

cax = fig.add_axes([441.3 / W, 1 - 913.3 / H, 12 / W, 35.6 / H])
cax.imshow(np.linspace(1, 0, 128)[:, None], aspect='auto', cmap=cmap)
cax.set_xticks([])
cax.set_yticks([])
for sp in cax.spines.values():
    sp.set_color('#555555')

fig.savefig('out.png', dpi=100)
